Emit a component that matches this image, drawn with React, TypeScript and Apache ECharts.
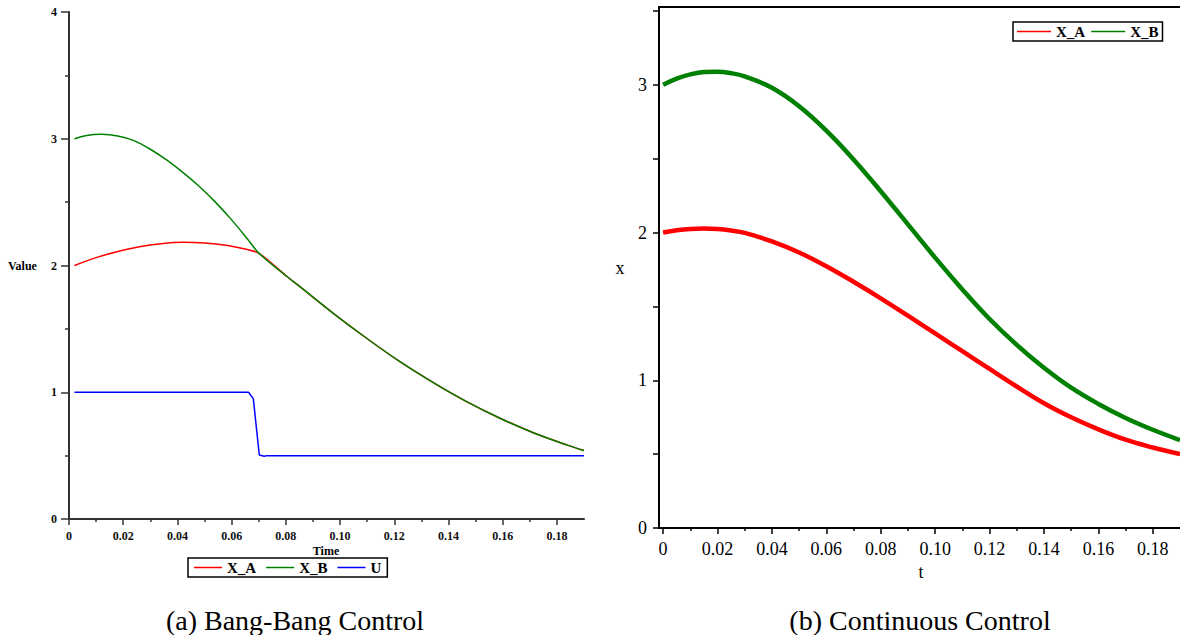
import React, { useEffect, useRef } from "react";
import * as echarts from "echarts";

// ---------- (a) Bang-Bang Control ----------
const bbXA: number[][] = [
  [0.002, 2.0], [0.01, 2.062], [0.018, 2.11], [0.026, 2.148], [0.034, 2.172],
  [0.042, 2.183], [0.05, 2.178], [0.058, 2.16], [0.065, 2.13], [0.0701, 2.096],
];
const bbXB: number[][] = [
  [0.002, 3.0], [0.006, 3.024], [0.012, 3.035], [0.018, 3.022], [0.024, 2.985],
  [0.03, 2.917], [0.036, 2.833], [0.042, 2.735], [0.048, 2.625], [0.054, 2.5],
  [0.06, 2.36], [0.066, 2.205], [0.0701, 2.096],
];
// after the switch both states follow the same trajectory
const bbShared: number[][] = [
  [0.0701, 2.096], [0.0803, 1.915], [0.0852, 1.833], [0.0975, 1.623], [0.1098, 1.426],
  [0.1221, 1.241], [0.1344, 1.076], [0.1467, 0.926], [0.159, 0.795], [0.1713, 0.681],
  [0.1836, 0.585], [0.19, 0.54],
];
const bbU: number[][] = [
  [0.002, 1.0], [0.0662, 1.0], [0.068, 0.95], [0.0702, 0.505], [0.072, 0.495], [0.073, 0.5], [0.19, 0.5],
];

// ---------- (b) Continuous Control ----------
const ccT = [0, 0.005, 0.01, 0.015, 0.02, 0.025, 0.03, 0.04, 0.05, 0.06, 0.07, 0.08, 0.09, 0.1, 0.11, 0.12, 0.13, 0.14, 0.15, 0.16, 0.17, 0.18, 0.19];
const ccXA = [2.0, 2.015, 2.024, 2.027, 2.024, 2.014, 1.998, 1.94, 1.865, 1.772, 1.667, 1.555, 1.437, 1.317, 1.197, 1.077, 0.958, 0.845, 0.75, 0.668, 0.598, 0.545, 0.5];
const ccXB = [3.0, 3.042, 3.071, 3.087, 3.089, 3.079, 3.057, 2.98, 2.855, 2.69, 2.495, 2.28, 2.055, 1.83, 1.615, 1.415, 1.24, 1.085, 0.95, 0.84, 0.745, 0.665, 0.595];

// tick values and labels
const timeMajorTicks = [0, 0.02, 0.04, 0.06, 0.08, 0.1, 0.12, 0.14, 0.16, 0.18];
const timeMinorTicks = [0.01, 0.03, 0.05, 0.07, 0.09, 0.11, 0.13, 0.15, 0.17];
const ccYTicks = [0, 0.5, 1, 1.5, 2, 2.5, 3, 3.5];
const ccYLabels = [0, 1, 2, 3];
const legendA = ["X_A", "X_B", "U"];
const legendB = ["X_A", "X_B"];
const captions = ["(a) Bang-Bang Control", "(b) Continuous Control"];

const RED = "#ff0000";
const GREEN = "#008000";
const BLUE = "#0000ff";
const SERIF = "Liberation Serif, DejaVu Serif, serif";

const fmtTime = (v: number) => (Math.abs(v) < 1e-9 ? "0" : v.toFixed(2));
const zip = (t: number[], v: number[]) => t.map((x, i) => [x, v[i]]);

export default function App() {
  const ref = useRef<HTMLDivElement>(null);
  useEffect(() => {
    if (!ref.current) return;
    const chart = echarts.init(ref.current, undefined, { renderer: "svg" });
    const leftAxisColor = "#333";
    const txt = (text: string, x: number, y: number, size: number, weight: string, align = "center") => ({
      type: "text", x, y,
      style: { text, fontFamily: SERIF, fontSize: size, fontWeight: weight, fill: "#000", align, verticalAlign: "middle" },
    });
    const option: any = {
      animation: false,
      backgroundColor: "#fff",
      grid: [
        { left: 69, top: 12, width: 515, height: 507, containLabel: false },
        { left: 659, top: 7, width: 521, height: 521, containLabel: false },
      ],
      xAxis: [
        {
          gridIndex: 0, type: "value", min: 0, max: 0.19, position: "bottom",
          axisLine: { show: true, onZero: false, lineStyle: { color: leftAxisColor, width: 2 } },
          axisTick: { show: true, customValues: timeMajorTicks, length: 6, lineStyle: { color: leftAxisColor, width: 1.5 } },
          axisLabel: {
            customValues: timeMajorTicks, formatter: fmtTime, margin: 11,
            fontFamily: SERIF, fontWeight: "bold", fontSize: 12, color: "#111",
          },
          splitLine: { show: false },
        },
        {
          gridIndex: 0, type: "value", min: 0, max: 0.19, position: "bottom",
          axisLine: { show: false },
          axisTick: { show: true, customValues: timeMinorTicks, length: 3, lineStyle: { color: leftAxisColor, width: 1.5 } },
          axisLabel: { show: false },
          splitLine: { show: false },
        },
        {
          gridIndex: 1, type: "value", min: -0.0015, max: 0.19, position: "bottom",
          axisLine: { show: true, onZero: false, lineStyle: { color: "#000", width: 2 } },
          axisTick: { show: true, customValues: timeMajorTicks, length: 6, lineStyle: { color: "#000", width: 1.5 } },
          axisLabel: {
            customValues: timeMajorTicks, formatter: fmtTime, margin: 12,
            fontFamily: SERIF, fontSize: 18, color: "#000",
          },
          splitLine: { show: false },
        },
        {
          gridIndex: 1, type: "value", min: -0.0015, max: 0.19, position: "bottom",
          axisLine: { show: false },
          axisTick: { show: true, customValues: timeMinorTicks, length: 3, lineStyle: { color: "#000", width: 1.5 } },
          axisLabel: { show: false },
          splitLine: { show: false },
        },
        {
          gridIndex: 1, type: "value", min: -0.0015, max: 0.19, position: "top",
          axisLine: { show: true, onZero: false, lineStyle: { color: "#000", width: 2 } },
          axisTick: { show: false },
          axisLabel: { show: false },
          splitLine: { show: false },
        },
      ],
      yAxis: [
        {
          gridIndex: 0, type: "value", min: 0, max: 4, interval: 1,
          axisLine: { show: true, onZero: false, lineStyle: { color: leftAxisColor, width: 2 } },
          axisTick: { show: true, length: 8, lineStyle: { color: leftAxisColor, width: 1.5 } },
          minorTick: { show: true, splitNumber: 2, length: 4, lineStyle: { color: leftAxisColor, width: 1.5 } },
          axisLabel: { margin: 12, fontFamily: SERIF, fontWeight: "bold", fontSize: 12, color: "#111" },
          splitLine: { show: false },
          minorSplitLine: { show: false },
        },
        {
          gridIndex: 1, type: "value", min: 0, max: 3.527,
          axisLine: { show: true, onZero: false, lineStyle: { color: "#000", width: 2 } },
          axisTick: { show: true, customValues: ccYTicks, length: 6, lineStyle: { color: "#000", width: 1.5 } },
          axisLabel: {
            customValues: ccYLabels, margin: 12,
            fontFamily: SERIF, fontSize: 18, color: "#000",
          },
          splitLine: { show: false },
        },
      ],
      legend: [
        {
          data: legendA, left: 188, top: 558, orient: "horizontal", icon: "rect",
          borderColor: "#000", borderWidth: 1.5, borderRadius: 0, padding: [2, 6],
          itemWidth: 28, itemHeight: 1.5, itemGap: 10,
          textStyle: { fontFamily: SERIF, fontWeight: "bold", fontSize: 15, color: "#000" },
          selectedMode: false,
        },
        {
          data: legendB, left: 1013, top: 22, orient: "horizontal", icon: "rect",
          borderColor: "#000", borderWidth: 1.5, borderRadius: 0, padding: [2, 4],
          itemWidth: 34, itemHeight: 1.5, itemGap: 6,
          textStyle: { fontFamily: SERIF, fontWeight: "bold", fontSize: 15, color: "#000" },
          selectedMode: false,
        },
      ],
      series: [
        {
          name: "X_A", type: "line", xAxisIndex: 0, yAxisIndex: 0, data: [...bbXA, ...bbShared.slice(1)],
          symbol: "none", smooth: 0.3, lineStyle: { color: RED, width: 1.5 }, itemStyle: { color: RED }, z: 2,
        },
        {
          name: "X_B", type: "line", xAxisIndex: 0, yAxisIndex: 0, data: [...bbXB, ...bbShared.slice(1)],
          symbol: "none", smooth: 0.3, lineStyle: { color: GREEN, width: 1.5 }, itemStyle: { color: GREEN }, z: 3,
        },
        {
          name: "U", type: "line", xAxisIndex: 0, yAxisIndex: 0, data: bbU,
          symbol: "none", lineStyle: { color: BLUE, width: 1.5 }, itemStyle: { color: BLUE }, z: 4,
        },
        {
          name: "X_A", type: "line", xAxisIndex: 2, yAxisIndex: 1, data: zip(ccT, ccXA),
          symbol: "none", smooth: 0.4, lineStyle: { color: RED, width: 4.5 }, itemStyle: { color: RED },
        },
        {
          name: "X_B", type: "line", xAxisIndex: 2, yAxisIndex: 1, data: zip(ccT, ccXB),
          symbol: "none", smooth: 0.4, lineStyle: { color: GREEN, width: 4.5 }, itemStyle: { color: GREEN },
        },
      ],
      graphic: [
        txt("Value", 8, 266, 12, "bold", "left"),
        txt("Time", 326, 551, 12, "bold"),
        txt("x", 620, 268, 18, "normal"),
        txt("t", 921, 572, 18, "normal"),
        txt(captions[0], 295, 620, 28, "normal"),
        txt(captions[1], 920, 620, 28, "normal"),
      ],
    };
    chart.setOption(option);
    return () => chart.dispose();
  }, []);
  return (
    <div
      ref={ref}
      style={{ position: "fixed", left: 0, top: 0, width: 1180, height: 635, background: "#fff" }}
    />
  );
}
